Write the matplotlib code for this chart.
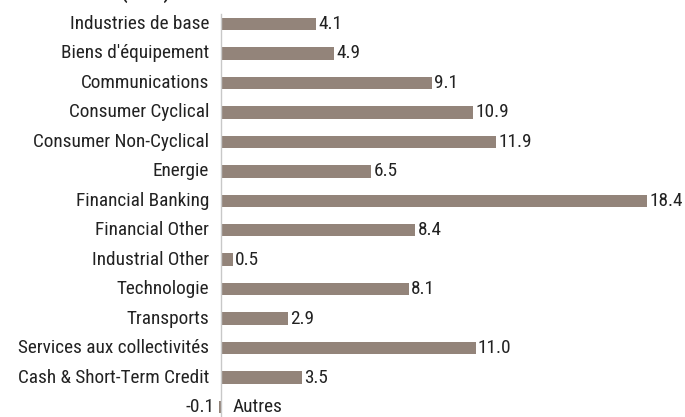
import matplotlib
matplotlib.use("Agg")
import matplotlib.pyplot as plt

categories = ["Industries de base", "Biens d'équipement", "Communications",
              "Consumer Cyclical", "Consumer Non-Cyclical", "Energie",
              "Financial Banking", "Financial Other", "Industrial Other",
              "Technologie", "Transports", "Services aux collectivités",
              "Cash & Short-Term Credit", "Autres"]
values = [4.1, 4.9, 9.1, 10.9, 11.9, 6.5, 18.4, 8.4, 0.5, 8.1, 2.9, 11.0, 3.5, -0.1]
value_labels = ["4.1", "4.9", "9.1", "10.9", "11.9", "6.5", "18.4", "8.4", "0.5",
                "8.1", "2.9", "11.0", "3.5", "-0.1"]
title = "Répartition sectorielle (en %)"

plt.rcParams['font.family'] = ["Roboto Condensed", "DejaVu Sans"]

W, H = 685, 417
fig = plt.figure(figsize=(W/100, H/100), dpi=100)
px = 23.15
x0 = 221
xmin = -1.0
left = x0 + xmin*px
ax = fig.add_axes([left/W, (H-421.7)/H, (W-left)/W, (421.7-9.3)/H])
ax.set_xlim(xmin, (W-left)/px + xmin)
ax.set_ylim(13.5, -0.5)

color = "#93847a"
tc = "#222222"
fs = 13.9
ys = list(range(len(categories)))
ax.barh(ys, values, height=0.42, color=color, edgecolor="none", zorder=2)
ax.plot([0, 0], [-0.35, 13.5], color="#c8c8c8", lw=1.0, zorder=3, clip_on=False)

for y, v, lab, cat in zip(ys, values, value_labels, categories):
    if v >= 0:
        ax.text(v + 0.1, y, lab, ha="left", va="center", fontsize=fs, color=tc)
        ax.annotate(cat, xy=(0, y), xytext=(-12, 0), textcoords="offset pixels",
                    ha="right", va="center", fontsize=fs, color=tc)
    else:
        ax.text(v - 0.2, y, lab, ha="right", va="center", fontsize=fs, color=tc)
        ax.annotate(cat, xy=(0, y), xytext=(12, 0), textcoords="offset pixels",
                    ha="left", va="center", fontsize=fs, color=tc)

fig.text(170/W, 1 + 1.5/H, title, ha="right", va="baseline", fontsize=fs,
         fontweight="bold", color=tc)

ax.axis("off")
fig.savefig("out.png", dpi=100)
